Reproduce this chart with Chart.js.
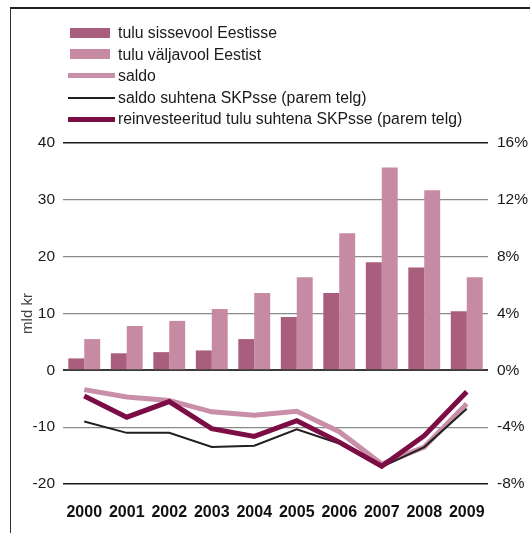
<!DOCTYPE html>
<html>
<head>
<meta charset="utf-8">
<script src="https://cdn.jsdelivr.net/npm/chart.js@4"></script>
<style>
    html, body { margin: 0; padding: 0; background: #fff; }
    #wrap { position: relative; width: 530px; height: 533px; overflow: hidden; font-family: "Liberation Sans", Arial, sans-serif; }
    #frame { position: absolute; left: 10px; top: 7px; right: -5px; bottom: -5px; border-top: 2px solid #222; border-left: 1px solid #333; }
    #chart { position: absolute; left: 0; top: 0; }
    #legend { position: absolute; left: 68px; top: 22px; }
    .item { position: relative; height: 21.6px; line-height: 21.6px; font-size: 15.8px; color: #1a1a1a; padding-left: 50px; white-space: nowrap; }
    .swatch { position: absolute; left: 0; top: 50%; }
</style>
</head>
<body>
<div id="wrap">
    <div id="frame"></div>
    <canvas id="chart" width="530" height="533"></canvas>
    <div id="legend"></div>
</div>
<script>
// Data
const years = ['2000', '2001', '2002', '2003', '2004', '2005', '2006', '2007', '2008', '2009'];
const inflow = [2.1, 3.0, 3.2, 3.5, 5.5, 9.4, 13.6, 19.0, 18.1, 10.4];        // mld kr
const outflow = [5.5, 7.8, 8.7, 10.8, 13.6, 16.4, 24.1, 35.7, 31.7, 16.4];    // mld kr
const saldo = [-3.4, -4.7, -5.3, -7.3, -7.9, -7.2, -10.8, -16.5, -13.5, -5.9]; // mld kr
const saldoGdp = [-3.6, -4.4, -4.4, -5.4, -5.3, -4.15, -5.15, -6.8, -5.4, -2.7];    // % (parem telg)
const reinvestGdp = [-1.8, -3.3, -2.2, -4.1, -4.65, -3.55, -5.05, -6.75, -4.6, -1.5]; // % (parem telg)
const leftTicks = [-20, -10, 0, 10, 20, 30, 40];
const rightTicks = [-8, -4, 0, 4, 8, 12, 16];

const colors = {
    inflow: '#a95e7d',
    outflow: '#c68aa2',
    saldo: '#c98fa8',
    saldoGdp: '#231f20',
    reinvest: '#7b0c44'
};

const datasets = [
    { type: 'bar', label: 'tulu sissevool Eestisse', data: inflow, backgroundColor: colors.inflow, yAxisID: 'y', order: 4 },
    { type: 'bar', label: 'tulu väljavool Eestist', data: outflow, backgroundColor: colors.outflow, yAxisID: 'y', order: 5 },
    { type: 'line', label: 'saldo', data: saldo, borderColor: colors.saldo, borderWidth: 5, yAxisID: 'y', order: 3 },
    { type: 'line', label: 'saldo suhtena SKPsse (parem telg)', data: saldoGdp, borderColor: colors.saldoGdp, borderWidth: 2, yAxisID: 'y2', order: 2 },
    { type: 'line', label: 'reinvesteeritud tulu suhtena SKPsse (parem telg)', data: reinvestGdp, borderColor: colors.reinvest, borderWidth: 5, yAxisID: 'y2', order: 1 }
];

datasets.forEach(ds => {
    if (ds.type === 'bar') {
        ds.barPercentage = 1.0;
        ds.categoryPercentage = 0.75;
        ds.borderWidth = 0;
    } else {
        ds.pointRadius = 0;
        ds.tension = 0;
        ds.fill = false;
        ds.borderJoinStyle = 'miter';
    }
});

// Legend as plain HTML
const legend = document.getElementById('legend');
datasets.forEach(ds => {
    const item = document.createElement('div');
    item.className = 'item';
    const sw = document.createElement('span');
    sw.className = 'swatch';
    if (ds.type === 'bar') {
        sw.style.left = '2px';
        sw.style.width = '40px';
        sw.style.height = '10px';
        sw.style.marginTop = '-5px';
        sw.style.background = ds.backgroundColor;
    } else {
        sw.style.width = '47px';
        sw.style.height = ds.borderWidth + 'px';
        sw.style.marginTop = (-ds.borderWidth / 2) + 'px';
        sw.style.background = ds.borderColor;
    }
    item.appendChild(sw);
    item.appendChild(document.createTextNode(ds.label));
    legend.appendChild(item);
});

const tickFont = { family: '"Liberation Sans", Arial, sans-serif', size: 15.5 };

function gridColor(ctx) {
    const v = ctx.tick && ctx.tick.value;
    if (v === 40 || v === -20) return '#1a1a1a';
    if (v === 0) return '#3a3a3a';
    return '#8a8a8a';
}
function gridWidth(ctx) {
    const v = ctx.tick && ctx.tick.value;
    if (v === 0) return 2;
    if (v === 40 || v === -20) return 1.5;
    return 1.2;
}

new Chart(document.getElementById('chart'), {
    data: { labels: years, datasets: datasets },
    options: {
        responsive: false,
        animation: false,
        layout: { padding: { top: 143, left: 10, right: 0, bottom: 0 } },
        plugins: {
            legend: { display: false },
            tooltip: { enabled: false }
        },
        scales: {
            x: {
                grid: { display: false, drawTicks: false },
                border: { display: false },
                ticks: {
                    color: '#111',
                    font: { family: tickFont.family, size: 16, weight: 'bold' },
                    padding: 19,
                    maxRotation: 0
                },
                afterFit: s => { s.height = 49; }
            },
            y: {
                position: 'left',
                min: -20,
                max: 40,
                afterBuildTicks: s => { s.ticks = leftTicks.map(v => ({ value: v })); },
                grid: { color: gridColor, lineWidth: gridWidth, drawTicks: false },
                border: { display: false },
                ticks: { color: '#1a1a1a', font: tickFont, padding: 8 },
                title: {
                    display: true,
                    text: 'mld kr',
                    color: '#444',
                    font: { family: tickFont.family, size: 15 },
                    padding: { top: 9, bottom: 0 }
                },
                afterFit: s => { s.width = 53; }
            },
            y2: {
                position: 'right',
                min: -8,
                max: 16,
                afterBuildTicks: s => { s.ticks = rightTicks.map(v => ({ value: v })); },
                grid: { display: false, drawTicks: false },
                border: { display: false },
                ticks: { color: '#1a1a1a', font: tickFont, padding: 9, callback: v => v + '%' },
                afterFit: s => { s.width = 42; }
            }
        }
    }
});
</script>
</body>
</html>
